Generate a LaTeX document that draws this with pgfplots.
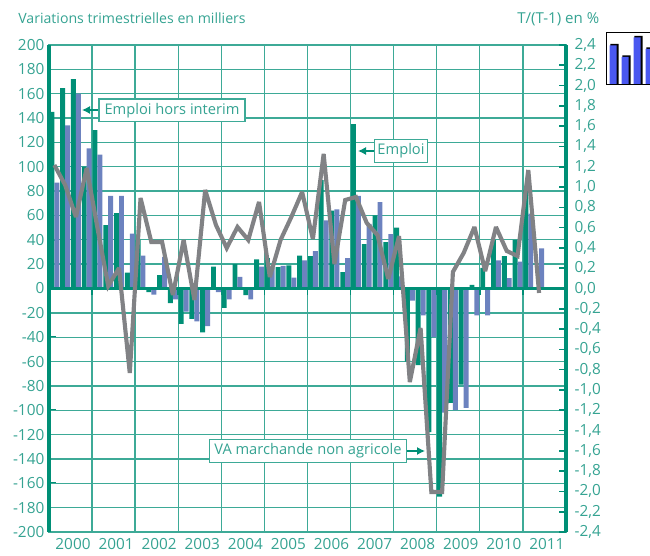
\documentclass[border=0pt]{standalone}
\usepackage{fontspec}
\setmainfont{Open Sans}
\usepackage{pgfplots}
\pgfplotsset{compat=1.18}
\usepackage{pgfplotstable}
\usetikzlibrary{arrows.meta}
\definecolor{vert}{HTML}{008F76}
\definecolor{bleu}{HTML}{6C82BF}
\definecolor{gris}{HTML}{818285}
\definecolor{grille}{HTML}{3DAA97}
\definecolor{texte}{HTML}{35A392}
\definecolor{icone}{HTML}{4A58F0}
\pgfplotstableread{
k emploi hors
0.5 145 87
1.5 164.5 134
2.5 172 160
3.5 100 115
4.5 130 110
5.5 52 76
6.5 62 76
7.5 13 45
8.5 40 27
9.5 -3 -5
10.5 11 26
11.5 -12 -9
12.5 -29 -19
13.5 -25 -27
14.5 -36 -31
15.5 18 -3
16.5 -16 -9
17.5 20 9.5
18.5 -5.5 -9
19.5 24 18
20.5 25 17
21.5 17.5 18.6
22.5 19 9
23.5 27 23
24.5 26.5 30.6
25.5 89 56
26.5 64 65
27.5 13.5 25
28.5 135 76
29.5 36.5 53
30.5 60 71
31.5 38 44.6
32.5 50 10
33.5 -60 -10
34.5 -63 -22
35.5 -118 -40
36.5 -171 -102
37.5 -94 -100
38.5 -79 -98
39.5 3 -22
40.5 17 -22
41.5 40 23
42.5 26.5 8.5
43.5 40 22
44.5 81 61.5
45.5 0 33
}\bars
\pgfplotstableread{
k va
0.5 1.217
1.5 1.02
2.5 0.705
3.5 1.188
4.5 0.596
5.5 0.025
6.5 0.202
7.5 -0.833
8.5 0.892
9.5 0.458
10.5 0.458
11.5 -0.064
12.5 0.478
13.5 -0.113
14.5 0.971
15.5 0.626
16.5 0.399
17.5 0.606
18.5 0.478
19.5 0.853
20.5 0.113
21.5 0.478
22.5 0.705
23.5 0.951
24.5 0.488
25.5 1.326
26.5 0.241
27.5 0.872
28.5 0.902
29.5 0.646
30.5 0.527
31.5 0.094
32.5 0.517
33.5 -0.922
34.5 -0.389
35.5 -2.006
36.5 -2.006
37.5 0.163
38.5 0.35
39.5 0.606
40.5 0.172
41.5 0.606
42.5 0.37
43.5 0.32
44.5 1.168
45.5 -0.044
}\va
\newcommand{\pp}[2]{({#1*0.75pt},{(556-#2)*0.75pt})}
\begin{document}
\begin{tikzpicture}[x=1pt,y=1pt]
\path[use as bounding box] (0,0) rectangle (487.5pt,417pt);
\begin{axis}[
  at={(36.75pt,18pt)}, anchor=south west,
  scale only axis, width=387.75pt, height=365.25pt,
  xmin=0, xmax=48, ymin=-200, ymax=200,
  axis line style={draw=grille,line width=1pt},
  xtick={0,4,...,48},
  xticklabels={2000,2001,2002,2003,2004,2005,2006,2007,2008,2009,2010,2011,{}},
  xticklabel style={text=texte,font=\fontsize{11.5}{12}\selectfont,xshift=18pt,yshift=-1pt},
  ytick={-200,-180,...,200},
  ytick pos=left, xtick pos=bottom,
  tick align=inside,
  major tick length=5.5pt,
  ytick style={color=vert,line width=1.2pt},
  xtick style={draw=none},
  yticklabel style={text=texte,font=\fontsize{11.5}{12}\selectfont,xshift=0pt},
  /pgf/number format/assume math mode=true,
  /pgf/number format/1000 sep={},
  clip=false,
]
\pgfplotsinvokeforeach{4,8,12,16,20,24,28,32,36,40,44}{
  \addplot[grille,line width=1pt,forget plot] coordinates {(#1,-200) (#1,200)};
}
\pgfplotsinvokeforeach{-180,-160,-140,-120,-100,-80,-60,-40,-20,20,40,60,80,100,120,140,160,180}{
  \addplot[grille,line width=1pt,forget plot] coordinates {(0,#1) (48,#1)};
}
\addplot[ybar,bar width=3.7pt,bar shift=-1.85pt,fill=vert,draw=none] table[x=k,y=emploi] {\bars};
\addplot[ybar,bar width=3.7pt,bar shift=1.85pt,fill=bleu,draw=none] table[x=k,y=hors] {\bars};
\addplot[vert,line width=2.2pt,forget plot] coordinates {(0,0) (48,0)};
\addplot[ycomb,vert,line width=1.2pt,no marks] coordinates {(4,-5) (8,-5) (12,-5) (16,-5) (20,-5) (24,-5) (28,-5) (32,-5) (36,-5) (40,-5) (44,-5)};
\addplot[vert,line width=2.4pt] coordinates {(0,-200) (0,200)};
\addplot[vert,line width=2.4pt] coordinates {(48,-200) (48,200)};
\end{axis}
\begin{axis}[
  at={(36.75pt,18pt)}, anchor=south west,
  scale only axis, width=387.75pt, height=365.25pt,
  xmin=0, xmax=48, ymin=-2.4, ymax=2.4,
  axis x line=none,
  axis y line*=right,
  axis line style={draw=none},
  ytick={-2.4,-2.2,...,2.41},
  tick align=inside,
  major tick length=5.5pt,
  ytick style={color=vert,line width=1.2pt},
  yticklabel style={text=texte,font=\fontsize{11.5}{12}\selectfont,xshift=3pt},
  /pgf/number format/assume math mode=true,
  /pgf/number format/.cd,fixed,fixed zerofill,precision=1,use comma,
  /pgfplots/.cd,
  clip=false,
]
\addplot[gris,line width=3.1pt,line join=miter,miter limit=3,no marks] table[x=k,y=va] {\va};
\end{axis}
\begin{axis}[
  at={(454.5pt,354pt)}, anchor=south west,
  scale only axis, width=42pt, height=39pt,
  xmin=0, xmax=56, ymin=0, ymax=52,
  ticks=none, clip=true,
  axis line style={draw=black,line width=0.7pt},
  axis background/.style={fill=white},
]
\addplot[ybar,bar width=6.2pt,bar shift=0.3pt,fill=black,draw=none] coordinates {(8,40) (20,28.5) (32,48) (44,36.5)};
\addplot[ybar,bar width=5.2pt,bar shift=-0.6pt,fill=icone,draw=none] coordinates {(8,38.5) (20,27) (32,46.5) (44,35)};
\end{axis}
\node[anchor=base west,text=texte,font=\fontsize{10.6}{12}\selectfont,inner sep=0pt] at \pp{18}{24} {Variations trimestrielles en milliers};
\node[anchor=base west,text=texte,font=\fontsize{11.3}{12}\selectfont,inner sep=0pt] at \pp{517}{24} {T/(T-1) en \%};
\tikzset{boite/.style={draw=grille,line width=1pt,fill=white,text=texte,font=\fontsize{11}{12}\selectfont,anchor=center,inner sep=0pt}}
\draw[vert,line width=0.9pt,-{Latex[length=6pt,width=6pt]}] \pp{100}{110} -- \pp{82}{110};
\node[boite,minimum width=109.5pt,minimum height=17pt] at \pp{172}{110.5} {Emploi hors interim};
\draw[vert,line width=0.9pt,-{Latex[length=6pt,width=6pt]}] \pp{376}{151} -- \pp{358}{151};
\node[boite,minimum width=39.5pt,minimum height=17pt] at \pp{401}{151} {Emploi};
\draw[vert,line width=0.9pt,-{Latex[length=6pt,width=6pt]}] \pp{407}{451} -- \pp{425}{451};
\node[boite,minimum width=148pt,minimum height=17pt] at \pp{308}{451} {VA marchande non agricole};
\end{tikzpicture}
\end{document}
